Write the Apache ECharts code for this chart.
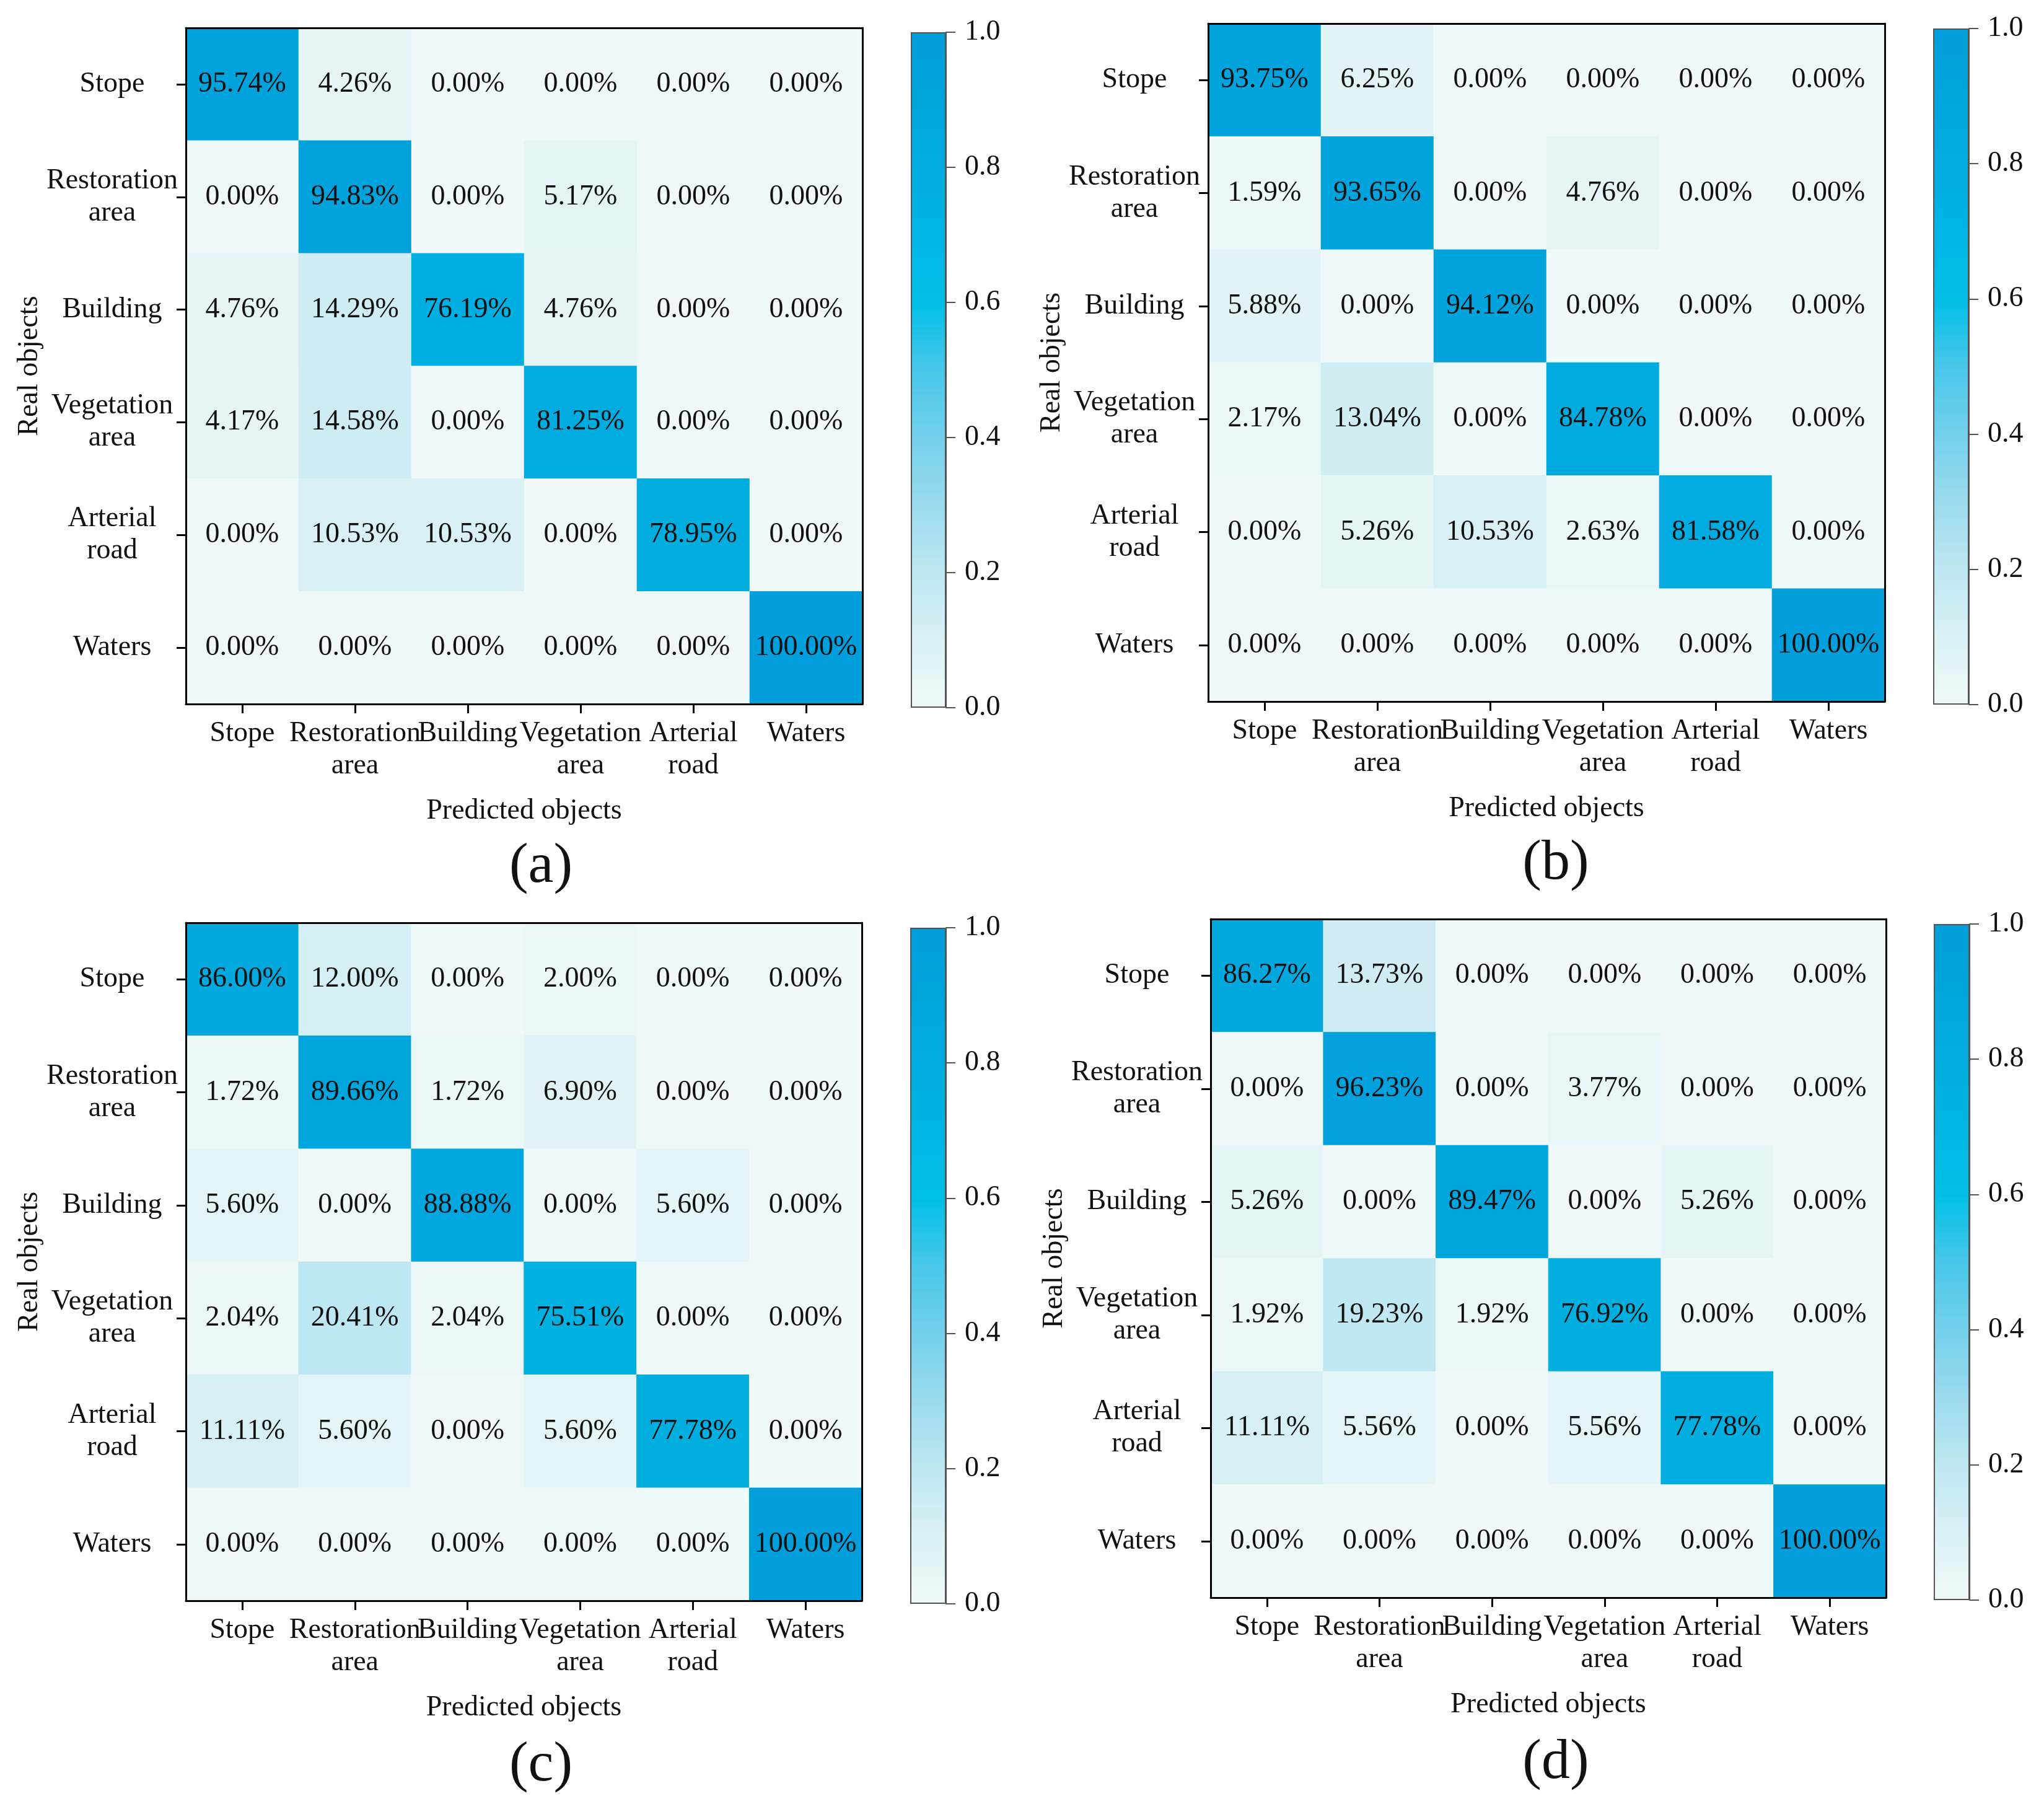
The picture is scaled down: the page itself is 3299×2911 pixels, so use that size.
<!DOCTYPE html>
<html>
<head>
<meta charset="utf-8">
<script src="https://cdn.jsdelivr.net/npm/echarts@6/dist/echarts.min.js"></script>
<style>
html,body{margin:0;padding:0;background:#fff;}
#chart{width:3299px;height:2911px;}
</style>
</head>
<body>
<div id="chart"></div>
<script>
// ---------- data ----------
const categories = ['Stope', 'Restoration\narea', 'Building', 'Vegetation\narea', 'Arterial\nroad', 'Waters'];
const panelTags = ['(a)', '(b)', '(c)', '(d)'];
const xAxisTitle = 'Predicted objects';
const yAxisTitle = 'Real objects';

// rows = real objects, columns = predicted objects (percent)
const matrixA = [
  [95.74, 4.26, 0.00, 0.00, 0.00, 0.00],
  [0.00, 94.83, 0.00, 5.17, 0.00, 0.00],
  [4.76, 14.29, 76.19, 4.76, 0.00, 0.00],
  [4.17, 14.58, 0.00, 81.25, 0.00, 0.00],
  [0.00, 10.53, 10.53, 0.00, 78.95, 0.00],
  [0.00, 0.00, 0.00, 0.00, 0.00, 100.00]
];
const matrixB = [
  [93.75, 6.25, 0.00, 0.00, 0.00, 0.00],
  [1.59, 93.65, 0.00, 4.76, 0.00, 0.00],
  [5.88, 0.00, 94.12, 0.00, 0.00, 0.00],
  [2.17, 13.04, 0.00, 84.78, 0.00, 0.00],
  [0.00, 5.26, 10.53, 2.63, 81.58, 0.00],
  [0.00, 0.00, 0.00, 0.00, 0.00, 100.00]
];
const matrixC = [
  [86.00, 12.00, 0.00, 2.00, 0.00, 0.00],
  [1.72, 89.66, 1.72, 6.90, 0.00, 0.00],
  [5.60, 0.00, 88.88, 0.00, 5.60, 0.00],
  [2.04, 20.41, 2.04, 75.51, 0.00, 0.00],
  [11.11, 5.60, 0.00, 5.60, 77.78, 0.00],
  [0.00, 0.00, 0.00, 0.00, 0.00, 100.00]
];
const matrixD = [
  [86.27, 13.73, 0.00, 0.00, 0.00, 0.00],
  [0.00, 96.23, 0.00, 3.77, 0.00, 0.00],
  [5.26, 0.00, 89.47, 0.00, 5.26, 0.00],
  [1.92, 19.23, 1.92, 76.92, 0.00, 0.00],
  [11.11, 5.56, 0.00, 5.56, 77.78, 0.00],
  [0.00, 0.00, 0.00, 0.00, 0.00, 100.00]
];
const matrices = [matrixA, matrixB, matrixC, matrixD];

const colorbarMin = 0.0;
const colorbarMax = 1.0;
const colorbarTickStep = 0.2;
const colorStops = ['#eff9fa', '#daf1f6', '#bee7f2', '#9bdbee', '#73d0eb', '#48c7ea',
                    '#00bfe6', '#00b5e3', '#00acdf', '#00a5dd', '#009fdb'];

// ---------- layout (pixels) ----------
const layout = [
  { grid: { left: 300,  top: 45,   width: 1092, height: 1091 }, cb: { left: 1470, top: 52,   width: 57, height: 1090 }, tag: { x: 868,  y: 1348 } },
  { grid: { left: 1950, top: 38,   width: 1092, height: 1094 }, cb: { left: 3120, top: 46,   width: 58, height: 1091 }, tag: { x: 2506, y: 1343 } },
  { grid: { left: 300,  top: 1489, width: 1091, height: 1094 }, cb: { left: 1469, top: 1497, width: 58, height: 1091 }, tag: { x: 868,  y: 2798 } },
  { grid: { left: 1954, top: 1483, width: 1090, height: 1095 }, cb: { left: 3121, top: 1491, width: 58, height: 1091 }, tag: { x: 2506, y: 2794 } }
];

const FONT = 'Liberation Serif';
const TXT = '#111';
const FS = 46;

const grids = [], xAxes = [], yAxes = [], series = [], visualMaps = [], titles = [];

const gradStops = colorStops.map((c, k) => ({ offset: k / (colorStops.length - 1), color: c }));

matrices.forEach((m, p) => {
  const L = layout[p];
  grids[p] = Object.assign({ containLabel: false }, L.grid);
  grids[4 + p] = Object.assign({ containLabel: false }, L.cb);

  // heatmap axes
  xAxes[p] = {
    type: 'category', gridIndex: p, data: categories, position: 'bottom', z: 5,
    axisLine: { show: true, lineStyle: { color: '#000', width: 3 } },
    axisTick: { show: true, alignWithLabel: true, length: 15, lineStyle: { color: '#000', width: 3 } },
    axisLabel: { fontFamily: FONT, fontSize: FS, color: TXT, lineHeight: 52, margin: 22, interval: 0 },
    splitLine: { show: false },
    name: xAxisTitle, nameLocation: 'middle', nameGap: 150,
    nameTextStyle: { fontFamily: FONT, fontSize: FS, color: TXT }
  };
  yAxes[p] = {
    type: 'category', gridIndex: p, data: categories, inverse: true, position: 'left', z: 5,
    axisLine: { show: true, lineStyle: { color: '#000', width: 3 } },
    axisTick: { show: true, alignWithLabel: true, length: 15, lineStyle: { color: '#000', width: 3 } },
    axisLabel: { fontFamily: FONT, fontSize: FS, color: TXT, lineHeight: 52, margin: 119, align: 'center', interval: 0 },
    splitLine: { show: false },
    name: yAxisTitle, nameLocation: 'middle', nameGap: 228, nameRotate: 90,
    nameTextStyle: { fontFamily: FONT, fontSize: FS, color: TXT }
  };
  // frame axes (top / right)
  xAxes[8 + p] = {
    type: 'category', gridIndex: p, data: categories, position: 'top', z: 5,
    axisLine: { show: true, lineStyle: { color: '#000', width: 3 } },
    axisTick: { show: false }, axisLabel: { show: false }, splitLine: { show: false }
  };
  yAxes[8 + p] = {
    type: 'category', gridIndex: p, data: categories, inverse: true, position: 'right', z: 5,
    axisLine: { show: true, lineStyle: { color: '#000', width: 3 } },
    axisTick: { show: false }, axisLabel: { show: false }, splitLine: { show: false }
  };

  // colorbar axes
  xAxes[4 + p] = { type: 'category', gridIndex: 4 + p, data: [''], show: false };
  yAxes[4 + p] = {
    type: 'value', gridIndex: 4 + p, position: 'right', min: colorbarMin, max: colorbarMax, interval: colorbarTickStep, z: 5,
    axisLine: { show: true, lineStyle: { color: '#555', width: 2 } },
    axisTick: { show: true, length: 15, lineStyle: { color: '#555', width: 2 } },
    axisLabel: { fontFamily: FONT, fontSize: FS, color: TXT, margin: 30, formatter: v => v.toFixed(1) },
    splitLine: { show: false }
  };

  const data = [];
  m.forEach((row, i) => row.forEach((v, j) => data.push([j, i, v])));
  series.push({
    type: 'heatmap', xAxisIndex: p, yAxisIndex: p, data: data,
    label: { show: true, fontFamily: FONT, fontSize: FS, color: TXT, formatter: q => q.value[2].toFixed(2) + '%' },
    emphasis: { disabled: true },
    itemStyle: { borderWidth: 0 }
  });
  visualMaps.push({
    type: 'continuous', show: false, seriesIndex: p, dimension: 2, min: 0, max: 100,
    inRange: { color: colorStops }
  });
  titles.push({
    text: panelTags[p], left: L.tag.x, top: L.tag.y, textAlign: 'center',
    textStyle: { fontFamily: FONT, fontSize: 92, fontWeight: 'normal', color: TXT }
  });
});

// colorbar bars
matrices.forEach((m, p) => {
  series.push({
    type: 'bar', xAxisIndex: 4 + p, yAxisIndex: 4 + p, data: [colorbarMax], barWidth: '100%', silent: true,
    itemStyle: {
      color: new echarts.graphic.LinearGradient(0, 1, 0, 0, gradStops),
      borderColor: '#555', borderWidth: 2
    }
  });
});

const chart = echarts.init(document.getElementById('chart'), null, { renderer: 'canvas' });
chart.setOption({
  backgroundColor: '#fff',
  animation: false,
  textStyle: { fontFamily: FONT },
  title: titles,
  grid: grids,
  xAxis: xAxes,
  yAxis: yAxes,
  visualMap: visualMaps,
  series: series
});
</script>
</body>
</html>
